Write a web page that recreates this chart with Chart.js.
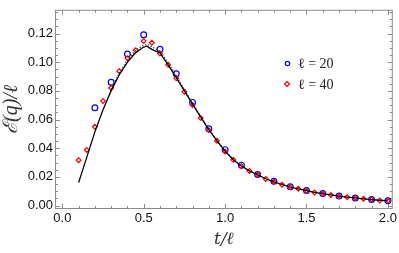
<!DOCTYPE html>
<html>
<head>
<meta charset="utf-8">
<script src="https://cdn.jsdelivr.net/npm/chart.js@4.4.1/dist/chart.umd.min.js"></script>
<style>
  html, body { margin: 0; padding: 0; background: #fff; }
  #wrap { width: 399px; height: 253px; }
</style>
</head>
<body>
<div id="wrap"><canvas id="chart"></canvas></div>
<script>
// --- data
var tBlue = [0.2, 0.3, 0.4, 0.5, 0.6, 0.7, 0.8, 0.9, 1.0, 1.1, 1.2, 1.3, 1.4, 1.5, 1.6, 1.7, 1.8, 1.9, 2.0];
var eBlue = [0.0682, 0.0860, 0.1057, 0.1192, 0.1090, 0.0920, 0.0720, 0.0536, 0.0390, 0.0282,
             0.0217, 0.0169, 0.0131, 0.0105, 0.0084, 0.0066, 0.0053, 0.0042, 0.0033];

var tRed = [0.1, 0.15, 0.2, 0.25, 0.3, 0.35, 0.4, 0.45, 0.5, 0.55, 0.6, 0.65, 0.7, 0.75, 0.8, 0.85, 0.9, 0.95,
            1.0, 1.05, 1.1, 1.15, 1.2, 1.25, 1.3, 1.35, 1.4, 1.45, 1.5, 1.55, 1.6, 1.65, 1.7, 1.75, 1.8, 1.85,
            1.9, 1.95, 2.0];
var eRed = [0.0317, 0.0388, 0.0550, 0.0729, 0.0820, 0.0937, 0.1028, 0.1083, 0.1148, 0.1136, 0.1061, 0.0983,
            0.0888, 0.0795, 0.0702, 0.0611, 0.0525, 0.0452, 0.0378, 0.0319, 0.0275, 0.0242, 0.0215, 0.0186,
            0.0166, 0.0146, 0.0128, 0.0117, 0.0104, 0.0091, 0.0083, 0.0073, 0.0066, 0.0058, 0.0053, 0.0047,
            0.0042, 0.0036, 0.0033];

var tSolid = [0.1, 0.15, 0.2, 0.25, 0.3, 0.35, 0.4, 0.45, 0.5, 0.52, 0.55, 0.6, 0.65, 0.7, 0.75, 0.8, 0.85, 0.9,
              0.95, 1.0, 1.05, 1.1, 1.15, 1.2, 1.25, 1.3, 1.35, 1.4, 1.45, 1.5, 1.55, 1.6, 1.65, 1.7, 1.75, 1.8,
              1.85, 1.9, 1.95, 2.0];
var eSolid = [0.0160, 0.0336, 0.0514, 0.0669, 0.0802, 0.0913, 0.1001, 0.1066, 0.1106, 0.1112, 0.1090, 0.1065,
              0.0982, 0.0893, 0.0800, 0.0708, 0.0617, 0.0530, 0.0452, 0.0380, 0.0320, 0.0276, 0.0242, 0.0214,
              0.0187, 0.0166, 0.0147, 0.0129, 0.0116, 0.0104, 0.0092, 0.0083, 0.0074, 0.0066, 0.0059, 0.0053,
              0.0047, 0.0042, 0.0037, 0.0033];

var tDot = [0.3, 0.35, 0.4, 0.45, 0.5, 0.52, 0.55, 0.6, 0.65, 0.7, 0.75, 0.8, 0.85, 0.9, 0.95, 1.0, 1.05, 1.1];
var eDot = [0.0812, 0.0925, 0.1015, 0.1082, 0.1120, 0.1124, 0.1108, 0.1078, 0.0998, 0.0905, 0.0808, 0.0714,
            0.0622, 0.0534, 0.0455, 0.0382, 0.0321, 0.0277];

var xTicks = [0, 0.5, 1.0, 1.5, 2.0];
var yTicks = [0, 0.02, 0.04, 0.06, 0.08, 0.10, 0.12];
var legendLabels = ['\u2113 = 20', '\u2113 = 40'];

function pts(xs, ys) {
    return xs.map(function (x, i) { return { x: x, y: ys[i] }; });
}

var frameColor = '#8c8c8c';

// frame + inward ticks on all four sides, Mathematica style
var framePlugin = {
    id: 'frame',
    beforeDatasetsDraw: function (chart) {
        var ctx = chart.ctx, a = chart.chartArea;
        var xs = chart.scales.x, ys = chart.scales.y;
        ctx.save();
        ctx.strokeStyle = frameColor;
        ctx.lineWidth = 1;
        ctx.strokeRect(a.left + 0.5, a.top + 0.5, a.right - a.left - 1, a.bottom - a.top - 1);
        var i, v, p, len;
        ctx.beginPath();
        for (i = 0; i <= 20; i++) {
            v = i / 10;
            p = Math.round(xs.getPixelForValue(v)) + 0.5;
            len = (i % 5 === 0) ? 5 : 3;
            ctx.moveTo(p, a.bottom); ctx.lineTo(p, a.bottom - len);
            ctx.moveTo(p, a.top); ctx.lineTo(p, a.top + len);
        }
        for (i = 0; i <= 27; i++) {
            v = i * 0.005;
            p = Math.round(ys.getPixelForValue(v)) + 0.5;
            len = (i % 4 === 0) ? 5 : 3;
            ctx.moveTo(a.left, p); ctx.lineTo(a.left + len, p);
            ctx.moveTo(a.right, p); ctx.lineTo(a.right - len, p);
        }
        ctx.stroke();
        ctx.restore();
    },
    afterDraw: function (chart) {
        var ctx = chart.ctx;
        ctx.save();
        // blue circle
        ctx.strokeStyle = '#0000ff';
        ctx.lineWidth = 1.2;
        ctx.beginPath();
        ctx.arc(287.5, 63.5, 2.2, 0, Math.PI * 2);
        ctx.stroke();
        // red diamond
        ctx.strokeStyle = '#ff0000';
        ctx.beginPath();
        ctx.moveTo(287, 81.5); ctx.lineTo(289.5, 84); ctx.lineTo(287, 86.5); ctx.lineTo(284.5, 84); ctx.closePath();
        ctx.stroke();
        ctx.fillStyle = '#222';
        ctx.font = '14px "Liberation Serif", "DejaVu Serif", serif';
        ctx.textBaseline = 'middle';
        ctx.fillText(legendLabels[0], 298, 64);
        ctx.fillText(legendLabels[1], 298, 85);
        ctx.restore();
    }
};

var tickFont = { family: '"Liberation Sans", Arial, sans-serif', size: 13 };
var xTitleFont = { family: '"DejaVu Serif", "Liberation Serif", serif', size: 17, style: 'italic' };
var yTitleFont = { family: '"Liberation Serif", "DejaVu Serif", serif', size: 20, style: 'italic' };

new Chart(document.getElementById('chart'), {
    type: 'scatter',
    data: {
        datasets: [
            {
                label: 'solid',
                data: pts(tSolid, eSolid),
                showLine: true,
                borderColor: '#000',
                borderWidth: 1.3,
                pointRadius: 0,
                order: 0
            },
            {
                label: 'dotted',
                data: pts(tDot, eDot),
                showLine: true,
                borderColor: '#333',
                borderWidth: 1.3,
                borderDash: [1.2, 1.8],
                pointRadius: 0,
                order: 1
            },
            {
                label: legendLabels[1],
                data: pts(tRed, eRed),
                pointStyle: 'rectRot',
                pointRadius: 2.4,
                borderWidth: 1.2,
                borderColor: '#ff0000',
                backgroundColor: 'rgba(0,0,0,0)',
                order: 2
            },
            {
                label: legendLabels[0],
                data: pts(tBlue, eBlue),
                pointStyle: 'circle',
                pointRadius: 2.9,
                borderWidth: 1.2,
                borderColor: '#0000ff',
                backgroundColor: 'rgba(0,0,0,0)',
                order: 3
            }
        ]
    },
    options: {
        responsive: true,
        maintainAspectRatio: false,
        animation: false,
        layout: { padding: { top: 1, right: 6, left: 0, bottom: 0 } },
        plugins: {
            legend: { display: false },
            tooltip: { enabled: false }
        },
        scales: {
            x: {
                type: 'linear',
                min: -0.045,
                max: 2.03,
                afterBuildTicks: function (s) { s.ticks = xTicks.map(function (v) { return { value: v }; }); },
                afterFit: function (s) { s.height = 44; },
                grid: { display: false, drawTicks: false },
                border: { display: false },
                ticks: {
                    color: '#111',
                    font: tickFont,
                    padding: 2,
                    maxRotation: 0,
                    callback: function (v) { return v.toFixed(1); }
                },
                title: {
                    display: true,
                    text: 't/\u2113',
                    color: '#333',
                    font: xTitleFont,
                    padding: { top: 0, bottom: 3 }
                }
            },
            y: {
                type: 'linear',
                min: -0.0024,
                max: 0.1366,
                afterBuildTicks: function (s) { s.ticks = yTicks.map(function (v) { return { value: v }; }); },
                afterFit: function (s) { s.width = 55; },
                grid: { display: false, drawTicks: false },
                border: { display: false },
                ticks: {
                    color: '#111',
                    font: tickFont,
                    padding: 2,
                    callback: function (v) { return v.toFixed(2); }
                },
                title: {
                    display: true,
                    text: '\u2130(q)/\u2113',
                    color: '#333',
                    font: yTitleFont,
                    padding: { top: 0, bottom: 0 }
                }
            }
        }
    },
    plugins: [framePlugin]
});
</script>
</body>
</html>
